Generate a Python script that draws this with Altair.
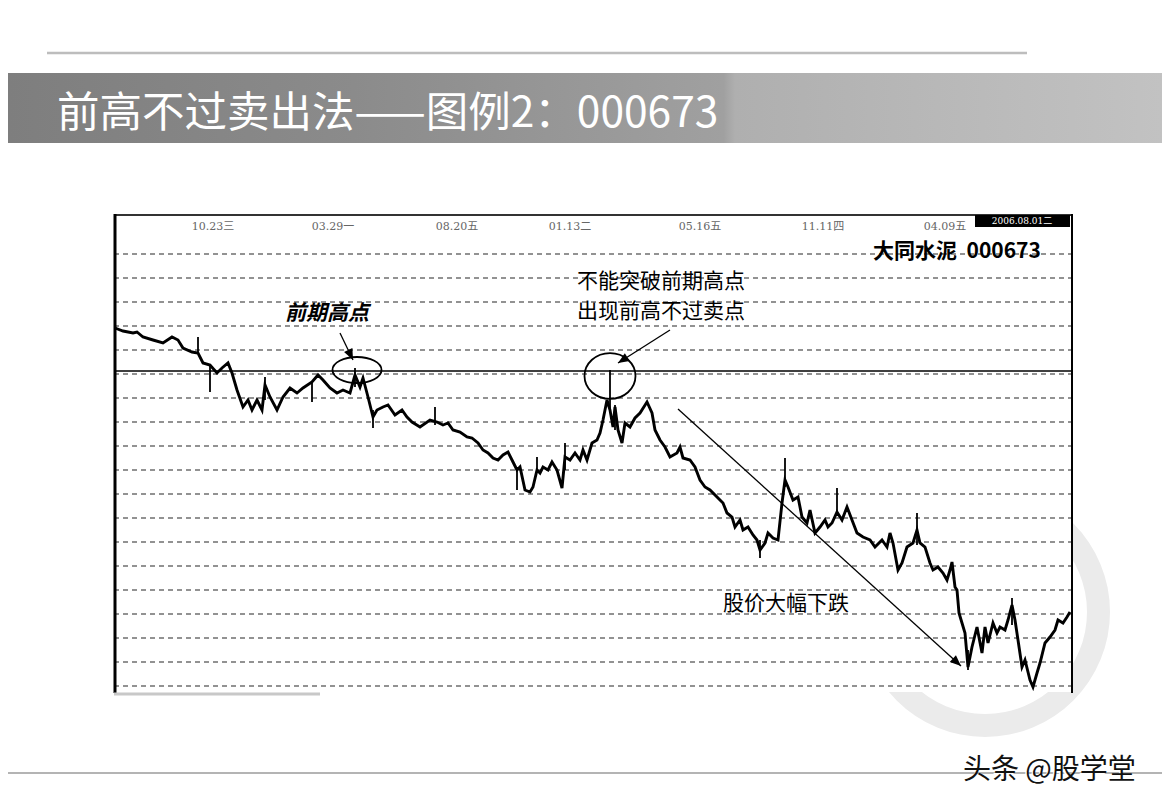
import altair as alt
import pandas as pd

# ---------------- data ----------------
# trading-day index and closing price of 000673
days = [1, 9, 19, 23, 29, 39, 49, 58, 64, 69,
        78, 84, 89, 96, 103, 108, 114, 118, 123, 129,
        134, 138, 143, 148, 151, 156, 163, 169, 176, 183,
        189, 198, 204, 209, 216, 223, 229, 236, 241, 246,
        249, 254, 259, 263, 269, 274, 281, 288, 293, 298,
        306, 316, 323, 329, 334, 339, 346, 353, 358, 364,
        369, 374, 379, 384, 389, 394, 399, 403, 406, 411,
        416, 419, 423, 426, 429, 434, 438, 443, 448, 451,
        456, 461, 466, 469, 473, 478, 483, 486, 489, 493,
        496, 499, 501, 504, 508, 511, 516, 521, 526, 533,
        538, 541, 546, 551, 556, 563, 566, 569, 576, 581,
        586, 591, 596, 604, 609, 613, 618, 621, 626, 629,
        634, 639, 643, 646, 651, 654, 659, 664, 668, 671,
        674, 679, 684, 688, 693, 696, 701, 706, 711, 714,
        718, 723, 728, 733, 738, 743, 749, 756, 761, 768,
        773, 776, 779, 784, 788, 793, 799, 803, 806, 811,
        816, 819, 824, 829, 833, 836, 838, 841, 843, 845,
        848, 851, 854, 858, 863, 868, 871, 874, 879, 883,
        886, 891, 894, 898, 901, 904, 908, 911, 916, 919,
        923, 926, 931, 936, 941, 944, 949, 953, 956]
prices = [6.72, 6.69, 6.67, 6.68, 6.63, 6.60, 6.57, 6.63, 6.60, 6.52,
          6.48, 6.47, 6.37, 6.35, 6.27, 6.32, 6.37, 6.27, 6.10, 5.93,
          6.00, 5.90, 6.00, 5.90, 6.15, 6.03, 5.90, 6.03, 6.12, 6.07,
          6.12, 6.18, 6.25, 6.20, 6.12, 6.07, 6.10, 6.07, 6.25, 6.13,
          6.22, 6.03, 5.83, 5.90, 5.93, 5.95, 5.85, 5.90, 5.83, 5.78,
          5.73, 5.80, 5.78, 5.75, 5.77, 5.70, 5.68, 5.63, 5.62, 5.57,
          5.50, 5.47, 5.42, 5.40, 5.45, 5.48, 5.38, 5.30, 5.33, 5.10,
          5.08, 5.13, 5.30, 5.27, 5.33, 5.30, 5.38, 5.30, 5.12, 5.43,
          5.40, 5.47, 5.40, 5.50, 5.40, 5.57, 5.60, 5.67, 5.80, 6.00,
          5.90, 5.73, 5.93, 5.70, 5.57, 5.77, 5.73, 5.82, 5.87, 5.98,
          5.87, 5.70, 5.60, 5.53, 5.43, 5.47, 5.53, 5.42, 5.40, 5.33,
          5.20, 5.13, 5.10, 5.02, 4.97, 4.87, 4.83, 4.73, 4.80, 4.70,
          4.73, 4.65, 4.60, 4.50, 4.57, 4.67, 4.62, 4.60, 4.97, 5.20,
          5.13, 5.00, 5.03, 4.83, 4.77, 4.90, 4.67, 4.73, 4.80, 4.73,
          4.77, 4.88, 4.80, 4.93, 4.80, 4.67, 4.63, 4.60, 4.53, 4.60,
          4.53, 4.67, 4.57, 4.30, 4.37, 4.53, 4.57, 4.70, 4.57, 4.53,
          4.37, 4.30, 4.33, 4.27, 4.20, 4.30, 4.38, 4.13, 4.10, 3.87,
          3.77, 3.67, 3.33, 3.53, 3.73, 3.47, 3.73, 3.57, 3.77, 3.67,
          3.73, 3.70, 3.80, 3.95, 3.80, 3.60, 3.33, 3.40, 3.20, 3.13,
          3.27, 3.37, 3.57, 3.63, 3.70, 3.80, 3.77, 3.83, 3.88]

# intraday spikes (high / low shadows)
spike_days = [84, 96, 151, 198, 241, 259, 321, 403, 423, 451, 496, 501, 646, 671, 723, 803, 854, 898]
spike_high = [6.63, 6.35, 6.23, 6.18, 6.32, 5.90, 5.93, 5.33, 5.43, 5.57, 6.30, 5.95, 4.60, 5.42, 5.12, 4.87, 3.50, 4.02]
spike_low = [6.47, 6.08, 6.00, 5.98, 6.13, 5.72, 5.75, 5.10, 5.27, 5.30, 5.90, 5.70, 4.42, 5.13, 4.85, 4.55, 3.30, 3.75]

grid_prices = [7.46, 7.22, 6.98, 6.74, 6.50, 6.26, 6.02, 5.78, 5.54, 5.30,
               5.06, 4.82, 4.58, 4.34, 4.10, 3.86, 3.62, 3.38, 3.14]
resistance_price = 6.29

date_labels = ["10.23三", "03.29一", "08.20五", "01.13二", "05.16五", "11.11四", "04.09五"]
date_label_days = [99, 219, 343, 456, 586, 709, 831]

# annotations
arrow_start_day = [226, 556, 564]
arrow_start_price = [6.67, 6.70, 5.91]
arrow_end_day = [239, 504, 847]
arrow_end_price = [6.40, 6.37, 3.34]
arrow_angle = [154.3, 237.6, 132.2]

# ---------------- layout ----------------
W, H = 1154, 788
CJK = "Noto Sans CJK SC"
xs = alt.Scale(domain=[0, 959], range=[106, 1065], nice=False, zero=False)
ys = alt.Scale(domain=[3.08, 7.86], range=[684, 206], nice=False, zero=False)


def X(f):
    return alt.X(f, type="quantitative", scale=xs, axis=None)


def Y(f):
    return alt.Y(f, type="quantitative", scale=ys, axis=None)


one = pd.DataFrame({"a": [0]})
base = alt.Chart(one)

# slide decorations
top_line = base.mark_rule(color="#bdbdbd", strokeWidth=2.5).encode(
    x=alt.value(39), x2=alt.value(1019), y=alt.value(45))
title_bar = base.mark_rect(fill={
    "gradient": "linear", "x1": 0, "x2": 1, "y1": 0, "y2": 0,
    "stops": [
        {"offset": 0, "color": "#7e7e7e"},
        {"offset": 0.3, "color": "#8b8b8b"},
        {"offset": 0.62, "color": "#a0a0a0"},
        {"offset": 0.63, "color": "#afafaf"},
        {"offset": 1, "color": "#c2c2c2"},
    ]}).encode(x=alt.value(0), x2=alt.value(W), y=alt.value(65), y2=alt.value(135))
title_text = base.mark_text(
    text="前高不过卖出法——图例2：000673", font=CJK, fontSize=42.5, color="white",
    align="left", baseline="middle").encode(x=alt.value(49), y=alt.value(106))
ring = base.mark_arc(radius=125, radius2=102, theta=0, theta2=6.2832, color="#ebebeb").encode(
    x=alt.value(977), y=alt.value(604))
footer_line = base.mark_rule(color="#b4b4b4", strokeWidth=2).encode(
    x=alt.value(0), x2=alt.value(W), y=alt.value(765))
footer_shadow = base.mark_text(
    text="头条 @股学堂", font=CJK, fontSize=28, color="white", align="left",
    baseline="middle").encode(x=alt.value(953.5), y=alt.value(764.5))
footer_text = base.mark_text(
    text="头条 @股学堂", font=CJK, fontSize=28, color="#111111", align="left",
    baseline="middle").encode(x=alt.value(955), y=alt.value(763))

# chart panel
panel = base.mark_rect(fill="white").encode(
    x=alt.value(106), x2=alt.value(1065), y=alt.value(206), y2=alt.value(684))
grid = alt.Chart(pd.DataFrame({"p": grid_prices})).mark_rule(
    color="#6f6f6f", strokeWidth=1.3, strokeDash=[5, 4]).encode(
    x=alt.value(106), x2=alt.value(1065), y=Y("p"))
res = alt.Chart(pd.DataFrame({"p": [resistance_price]})).mark_rule(
    color="black", strokeWidth=1.3).encode(x=alt.value(106), x2=alt.value(1065), y=Y("p"))

price_df = pd.DataFrame({"day": days, "price": prices})
line = alt.Chart(price_df).mark_line(color="black", strokeWidth=2.9).encode(
    x=X("day"), y=Y("price"))
spike_df = pd.DataFrame({"day": spike_days, "hi": spike_high, "lo": spike_low})
spikes = alt.Chart(spike_df).mark_rule(color="black", strokeWidth=1.8).encode(
    x=X("day"), y=Y("lo"), y2="hi")

# ellipses around the two highs
ell1 = alt.Chart(pd.DataFrame({"day": [243], "price": [6.30]})).mark_point(
    shape="M -1 0 A 1 0.53 0 1 0 1 0 A 1 0.53 0 1 0 -1 0 Z", size=2401,
    filled=False, color="black", strokeWidth=1.8, opacity=1).encode(x=X("day"), y=Y("price"))
ell2 = alt.Chart(pd.DataFrame({"day": [496], "price": [6.24]})).mark_point(
    shape="M -1 0 A 1 0.9 0 1 0 1 0 A 1 0.9 0 1 0 -1 0 Z", size=2601,
    filled=False, color="black", strokeWidth=1.8, opacity=1).encode(x=X("day"), y=Y("price"))

arrow_df = pd.DataFrame({"d0": arrow_start_day, "p0": arrow_start_price,
                         "d1": arrow_end_day, "p1": arrow_end_price, "ang": arrow_angle})
arrows = alt.Chart(arrow_df).mark_rule(color="black", strokeWidth=1.3).encode(
    x=X("d0"), y=Y("p0"), x2="d1", y2="p1")
heads = alt.Chart(arrow_df).mark_point(
    shape="M 0 0 L 0.42 1 L -0.42 1 Z", size=484, filled=True, color="black", opacity=1).encode(
    x=X("d1"), y=Y("p1"), angle=alt.Angle("ang:Q", scale=None))

ann1 = alt.Chart(pd.DataFrame({"day": [213], "price": [6.86], "t": ["前期高点"]})).mark_text(
    font=CJK, fontSize=21, fontStyle="italic", fontWeight="bold", color="black",
    align="center", baseline="middle").encode(x=X("day"), y=Y("price"), text="t:N")
ann2 = alt.Chart(pd.DataFrame({"day": [463, 463], "price": [7.18, 6.88],
                               "t": ["不能突破前期高点", "出现前高不过卖点"]})).mark_text(
    font=CJK, fontSize=21, color="black", align="left", baseline="middle").encode(
    x=X("day"), y=Y("price"), text="t:N")
ann3 = alt.Chart(pd.DataFrame({"day": [609], "price": [3.96], "t": ["股价大幅下跌"]})).mark_text(
    font=CJK, fontSize=21, color="black", align="left", baseline="middle").encode(
    x=X("day"), y=Y("price"), text="t:N")
name = alt.Chart(pd.DataFrame({"day": [759], "price": [7.48],
                               "t": ["大同水泥\u00a0\u00a0000673"]})).mark_text(
    font=CJK, fontSize=21, fontWeight="bold", color="black", align="left", baseline="middle").encode(
    x=X("day"), y=Y("price"), text="t:N")

dates = alt.Chart(pd.DataFrame({"day": date_label_days, "price": [7.73] * len(date_labels),
                                "t": date_labels})).mark_text(
    font="DejaVu Serif, Noto Sans CJK SC", fontSize=11, color="#666666",
    align="center", baseline="middle").encode(x=X("day"), y=Y("price"), text="t:N")

# frame
frame_top = base.mark_rule(color="#333333", strokeWidth=2).encode(
    x=alt.value(106), x2=alt.value(1065), y=alt.value(207))
frame_left = base.mark_rule(color="black", strokeWidth=3).encode(
    x=alt.value(107), y=alt.value(206), y2=alt.value(685))
frame_right = base.mark_rule(color="black", strokeWidth=2).encode(
    x=alt.value(1064), y=alt.value(206), y2=alt.value(685))
frame_bottom = base.mark_rule(color="#c8c8c8", strokeWidth=3).encode(
    x=alt.value(106), x2=alt.value(312), y=alt.value(686))
date_box = base.mark_rect(fill="black").encode(
    x=alt.value(967), x2=alt.value(1062), y=alt.value(207), y2=alt.value(219))
date_box_text = base.mark_text(
    text="2006.08.01二", font="DejaVu Serif, Noto Sans CJK SC", fontSize=9, color="white",
    align="center", baseline="middle").encode(x=alt.value(1014), y=alt.value(213))

chart = alt.layer(
    top_line, title_bar, title_text, ring, footer_line, footer_shadow, footer_text,
    panel, grid, res, line, spikes, ell1, ell2, arrows, heads,
    ann1, ann2, ann3, name, dates, frame_top, frame_left, frame_right, frame_bottom,
    date_box, date_box_text,
).properties(
    width=W, height=H, autosize=alt.AutoSizeParams(type="none"), padding=0,
).configure(background="white").configure_view(strokeWidth=0)

chart.save("out.html", embed_options={"renderer": "svg", "actions": False})
